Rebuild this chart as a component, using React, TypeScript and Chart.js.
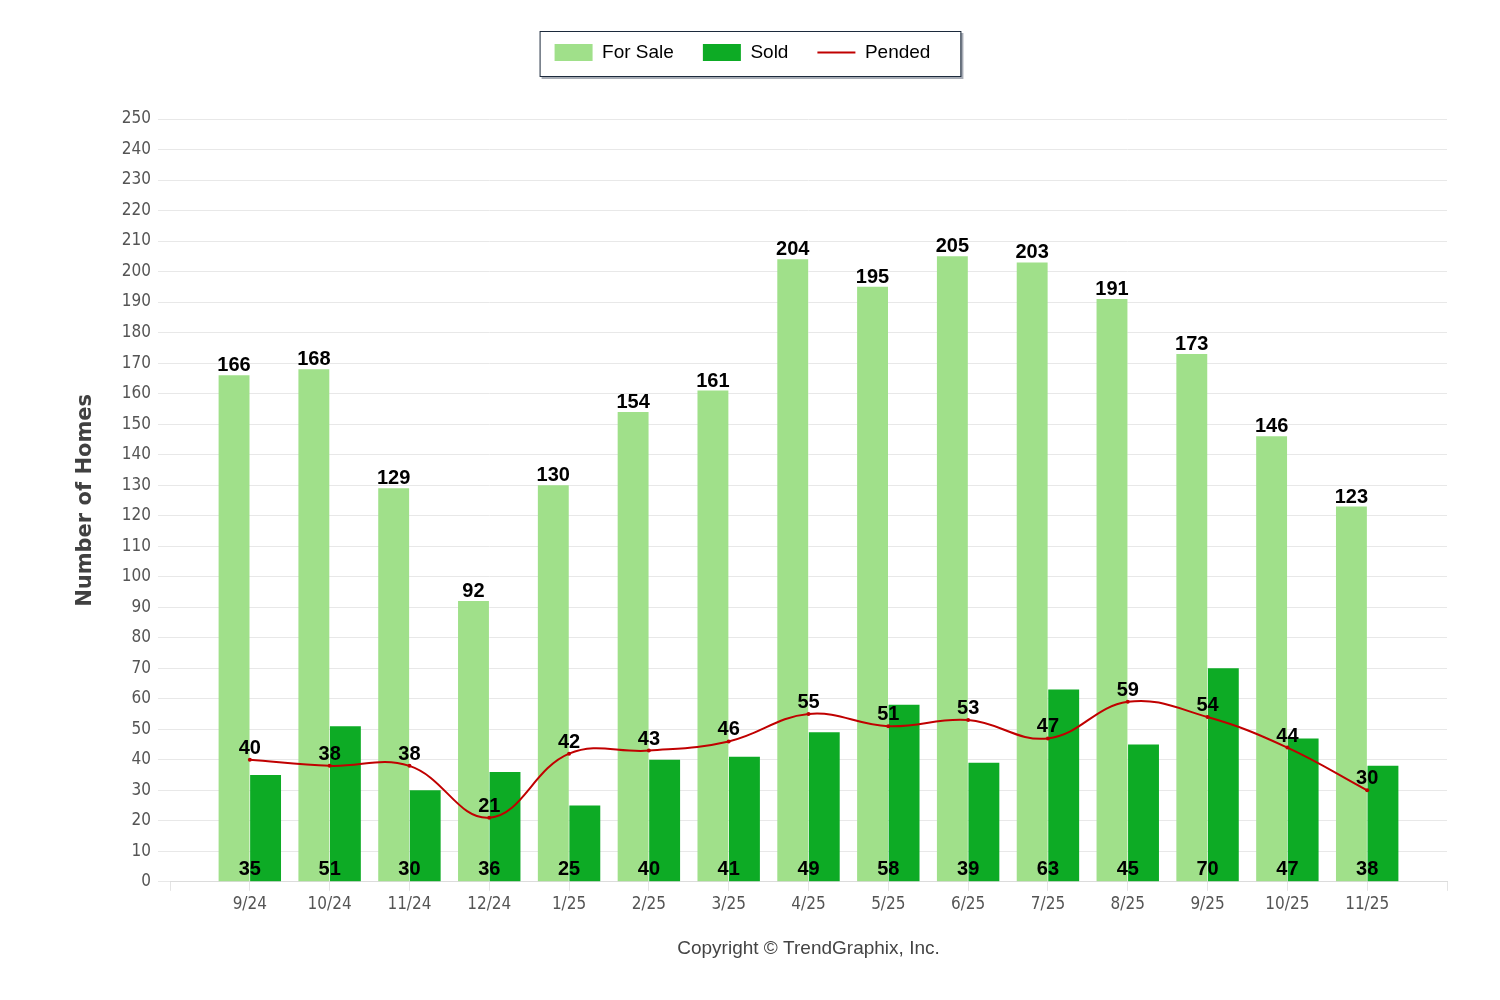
import React, { useEffect, useRef } from "react";
import { Chart, registerables } from "chart.js";

Chart.register(...registerables);

// Months shown on the x axis
const MONTHS = ["9/24", "10/24", "11/24", "12/24", "1/25", "2/25", "3/25", "4/25", "5/25", "6/25", "7/25", "8/25", "9/25", "10/25", "11/25"];
const FOR_SALE = [166, 168, 129, 92, 130, 154, 161, 204, 195, 205, 203, 191, 173, 146, 123];
const SOLD = [35, 51, 30, 36, 25, 40, 41, 49, 58, 39, 63, 45, 70, 47, 38];
const PENDED = [40, 38, 38, 21, 42, 43, 46, 55, 51, 53, 47, 59, 54, 44, 30];

const LIGHT_GREEN = "#a0e08a";
const DARK_GREEN = "#0dab25";
const RED = "#c00000";
const NARROW = "'Liberation Sans Narrow', 'DejaVu Sans Condensed', sans-serif";
const ARIAL = "'Liberation Sans', Arial, sans-serif";

// empty slot on each side of the months, like the original axis
const pad = <T,>(arr: T[], blank: T): T[] => [blank, ...arr, blank];

// extra space under the legend
const legendGap = {
  id: "legendGap",
  beforeInit(chart: any) {
    const legend = chart.legend;
    if (!legend) return;
    const fit = legend.fit;
    legend.fit = function () {
      fit.bind(legend)();
      this.height += 47;
    };
  },
};

// framed box with a shadow behind the legend
const legendFrame = {
  id: "legendFrame",
  beforeDraw(chart: any) {
    const boxes = chart.legend?.legendHitBoxes;
    if (!boxes || !boxes.length) return;
    const first = boxes[0];
    const last = boxes[boxes.length - 1];
    const left = first.left - 15;
    const right = last.left + last.width + 30;
    const top = first.top - 12;
    const h = 45;
    const ctx = chart.ctx;
    ctx.save();
    ctx.fillStyle = "rgba(60,70,90,0.45)";
    ctx.fillRect(left + 2, top + 2, right - left + 1, h + 1);
    ctx.fillStyle = "#fff";
    ctx.fillRect(left, top, right - left, h);
    ctx.strokeStyle = "#1c2a3c";
    ctx.lineWidth = 1;
    ctx.strokeRect(left + 0.5, top + 0.5, right - left, h);
    ctx.restore();
  },
};

// value labels above / inside the marks
const valueLabels = {
  id: "valueLabels",
  afterDatasetsDraw(chart: any) {
    const ctx = chart.ctx;
    const xScale = chart.scales.x;
    const zero = chart.scales.y.getPixelForValue(0);
    ctx.save();
    ctx.font = `bold 20px ${ARIAL}`;
    ctx.fillStyle = "#000";
    ctx.textAlign = "center";
    ctx.textBaseline = "alphabetic";
    chart.data.datasets.forEach((ds: any, di: number) => {
      const meta = chart.getDatasetMeta(di);
      meta.data.forEach((el: any, i: number) => {
        const v = ds.data[i];
        if (v === null || v === undefined) return;
        if (di === 0) ctx.fillText(String(v), el.x, el.y - 4);
        else if (di === 1) ctx.fillText(String(v), xScale.getPixelForValue(i), zero - 7);
        else ctx.fillText(String(v), el.x, el.y - 6);
      });
    });
    ctx.restore();
  },
};

const App: React.FC = () => {
  const canvasRef = useRef<HTMLCanvasElement | null>(null);

  useEffect(() => {
    document.body.style.margin = "0";
    if (!canvasRef.current) return;
    const chart = new Chart(canvasRef.current, {
      type: "bar",
      data: {
        labels: pad(MONTHS, ""),
        datasets: [
          {
            label: "For Sale",
            data: pad<number | null>(FOR_SALE, null),
            backgroundColor: LIGHT_GREEN,
            borderWidth: 0,
            barPercentage: 0.98,
            categoryPercentage: 0.79,
          },
          {
            label: "Sold",
            data: pad<number | null>(SOLD, null),
            backgroundColor: DARK_GREEN,
            borderWidth: 0,
            barPercentage: 0.98,
            categoryPercentage: 0.79,
          },
          {
            type: "line",
            label: "Pended",
            data: pad<number | null>(PENDED, null),
            borderColor: RED,
            backgroundColor: RED,
            borderWidth: 2,
            tension: 0.4,
            pointRadius: 2,
            pointBorderWidth: 0,
            pointBackgroundColor: RED,
            order: -1,
          } as any,
        ],
      },
      options: {
        responsive: false,
        animation: false,
        devicePixelRatio: 1,
        layout: { padding: { top: 14, left: 38, right: 53, bottom: 40 } },
        plugins: {
          tooltip: { enabled: false },
          legend: {
            position: "top",
            labels: {
              usePointStyle: true,
              pointStyleWidth: 38,
              boxHeight: 17,
              padding: 29,
              color: "#000",
              font: { family: ARIAL, size: 19 },
              sort: (a: any, b: any) => a.datasetIndex - b.datasetIndex,
              generateLabels: (chart: any) =>
                chart.data.datasets.map((ds: any, i: number) => ({
                  text: ds.label,
                  datasetIndex: i,
                  fillStyle: ds.backgroundColor,
                  strokeStyle: i === 2 ? RED : ds.backgroundColor,
                  lineWidth: i === 2 ? 2 : 0,
                  pointStyle: i === 2 ? "line" : "rect",
                  hidden: false,
                  fontColor: "#000",
                })),
            },
          },
        },
        scales: {
          x: {
            offset: false,
            grid: {
              display: true,
              offset: false,
              drawOnChartArea: false,
              drawTicks: true,
              tickLength: 9,
              color: "#e4e4e4",
            },
            border: { display: true, color: "#dcdcdc" },
            ticks: {
              color: "#555",
              padding: 4,
              maxRotation: 0,
              autoSkip: false,
              font: { family: NARROW, size: 17 },
            },
            title: {
              display: true,
              text: "Copyright © TrendGraphix, Inc.",
              color: "#444",
              font: { family: ARIAL, size: 19 },
              padding: { top: 18, bottom: 0 },
            },
          },
          y: {
            min: 0,
            max: 250,
            afterFit: (scale: any) => {
              scale.width = 132;
            },
            ticks: {
              stepSize: 10,
              color: "#555",
              padding: 7,
              font: { family: NARROW, size: 17 },
            },
            grid: { color: "#e8e8e8", tickLength: 12 },
            border: { display: false },
            title: {
              display: true,
              text: "Number of Homes",
              color: "#404040",
              font: { family: "'DejaVu Sans', sans-serif", size: 21, weight: "bold" },
              padding: { top: 35, bottom: 0 },
            },
          },
        },
      },
      plugins: [legendGap, legendFrame, valueLabels],
    });
    return () => chart.destroy();
  }, []);

  return (
    <div style={{ width: 1500, height: 1000, background: "#fff" }}>
      <canvas ref={canvasRef} width={1500} height={1000} />
    </div>
  );
};

export default App;
